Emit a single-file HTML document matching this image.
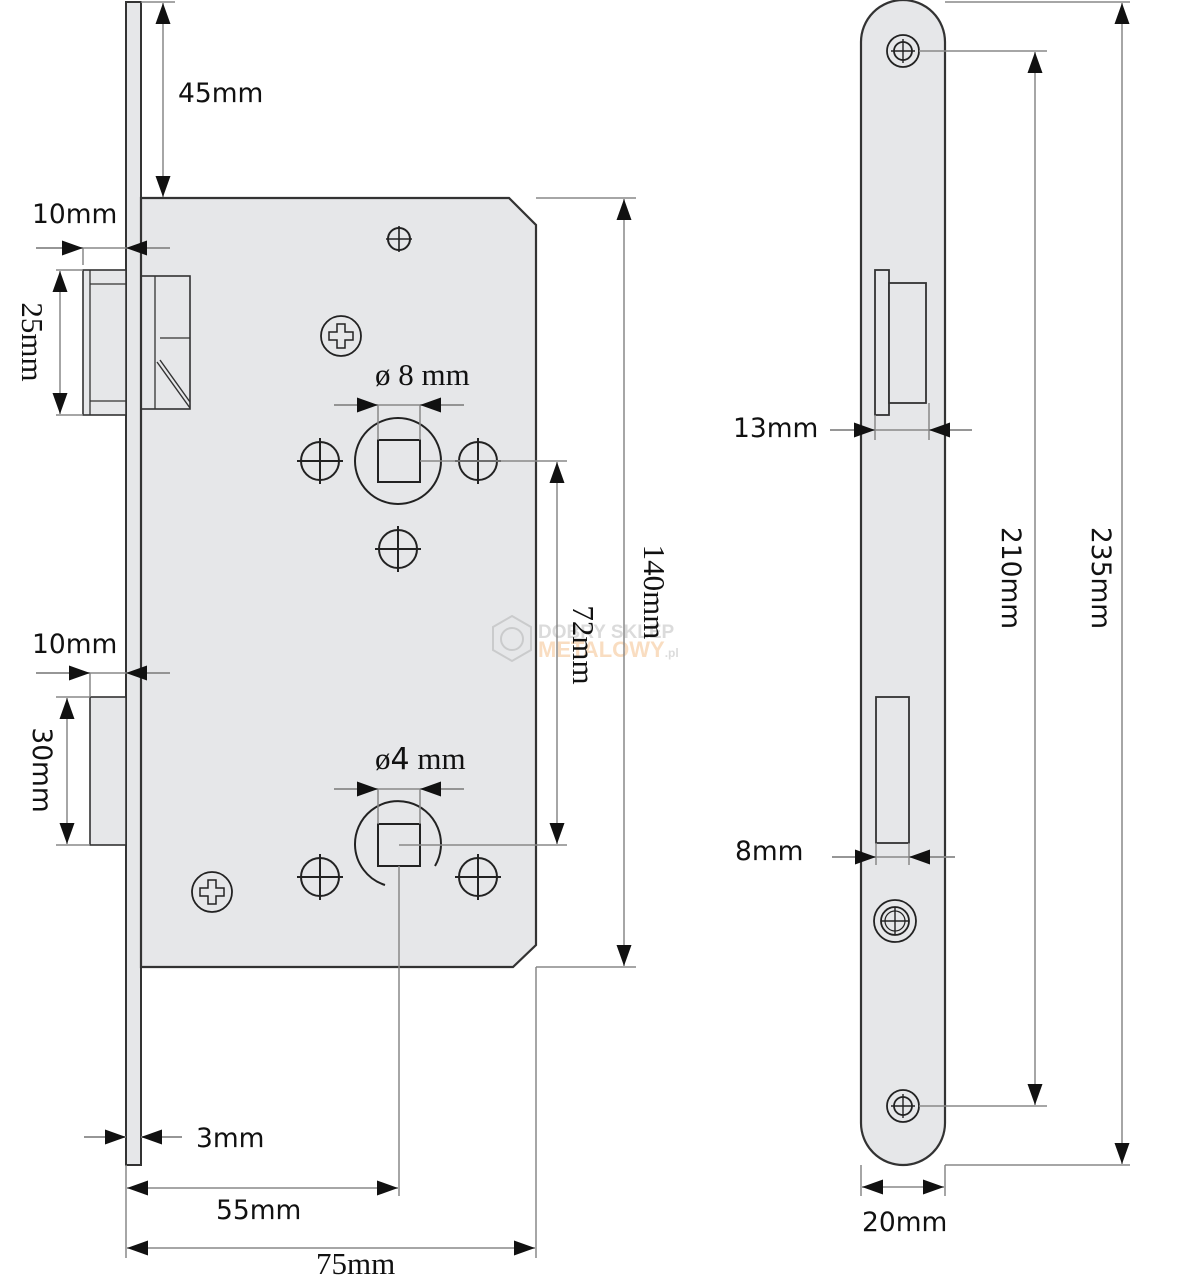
<!DOCTYPE html>
<html><head><meta charset="utf-8"><style>
html,body{margin:0;padding:0;background:#fff;}
svg{display:block;}
.s{font-family:"DejaVu Sans","Liberation Sans",sans-serif;font-size:26.5px;fill:#111;}
.r{font-family:"Liberation Serif",serif;font-size:31px;fill:#111;}
</style></head><body>
<svg width="1180" height="1280" viewBox="0 0 1180 1280" xmlns="http://www.w3.org/2000/svg">
<defs>
<marker id="a" markerUnits="userSpaceOnUse" markerWidth="22" markerHeight="16" refX="21" refY="7.5" orient="auto"><path d="M0,0 L21,7.5 L0,15 z" fill="#111"/></marker>
<g id="hole"><circle r="19" fill="none" stroke="#222" stroke-width="2"/><path d="M-23,0H23M0,-23V23" stroke="#222" stroke-width="2"/></g>
<g id="ph"><circle r="20" fill="none" stroke="#222" stroke-width="1.8"/><path d="M-4,-12h8v8h8v8h-8v8h-8v-8h-8v-8h8z" fill="none" stroke="#222" stroke-width="1.5"/></g>
</defs>
<g stroke="#333" stroke-width="1.6">
<rect x="126" y="2" width="15" height="1163" fill="#e6e7e9" stroke-width="2"/>
<path d="M141,198 H509 L536,225 V945 L513,967 H141 Z" fill="#e6e7e9" stroke-width="2.2"/>
<rect x="83" y="270" width="43" height="145" fill="#e6e7e9"/>
<path d="M90,270V415M90,284H126M90,401H126" fill="none" stroke-width="1.3"/>
<rect x="141" y="276" width="49" height="133" fill="none"/>
<path d="M155,276V409M160,338H190" fill="none" stroke-width="1.3"/>
<path d="M157,362L190,408M160,360L190,402" fill="none" stroke-width="1.4"/>
<rect x="90" y="697" width="36" height="148" fill="#e6e7e9"/>
</g>
<g stroke="#222" stroke-width="2" fill="none">
<circle cx="399" cy="239" r="11"/><path d="M386,239H412M399,226V252" stroke-width="1.6"/>
<circle cx="398" cy="461" r="43"/>
<rect x="378" y="440" width="42" height="42"/>
<path d="M355,845 A43,43 0 1 1 435,866" />
<path d="M355,845 A43,43 0 0 0 385,885" />
<rect x="378" y="824" width="42" height="42"/>
</g>
<use href="#hole" x="320" y="461"/><use href="#hole" x="478" y="461"/><use href="#hole" x="398" y="549"/>
<use href="#hole" x="320" y="877"/><use href="#hole" x="478" y="877"/>
<use href="#ph" x="341" y="336"/><use href="#ph" x="212" y="892"/>
<g opacity="0.35"><polygon points="512,616 531,627 531,650 512,661 493,650 493,627" fill="none" stroke="#999" stroke-width="2"/><circle cx="512" cy="639" r="11" fill="none" stroke="#999" stroke-width="2"/>
<text x="538" y="638" font-family="Liberation Sans,sans-serif" font-weight="bold" font-size="19" fill="#999">DOBRY SKLEP</text>
<text x="538" y="657" font-family="Liberation Sans,sans-serif" font-weight="bold" font-size="22" fill="#f0a050">METALOWY<tspan font-size="12" fill="#999">.pl</tspan></text></g>
<g stroke="#888" stroke-width="1.5" fill="none">
<path d="M141,2H175M126,1165V1258M399,866V1196M536,967V1258M536,198H636M536,967H636M420,461H567M399,845H567M141,248H170M83,248V265M126,248H36M56,270H83M56,415H83M141,673H170M90,673V697M126,673H36M56,697H90M56,845H90M378,405V440M420,405V440M334,405H464M378,789V824M420,789V824M334,789H464M141,1137H182M84,1137H126"/>
</g>
<g stroke="#888" stroke-width="1.5" marker-end="url(#a)">
<line x1="163" y1="100" x2="163" y2="3"/><line x1="163" y1="100" x2="163" y2="197"/>
<line x1="624" y1="580" x2="624" y2="199"/><line x1="624" y1="580" x2="624" y2="966"/>
<line x1="557" y1="650" x2="557" y2="462"/><line x1="557" y1="650" x2="557" y2="844"/>
<line x1="60" y1="340" x2="60" y2="271"/><line x1="60" y1="340" x2="60" y2="414"/>
<line x1="67" y1="770" x2="67" y2="698"/><line x1="67" y1="770" x2="67" y2="844"/>
<line x1="36" y1="248" x2="83" y2="248"/><line x1="170" y1="248" x2="126" y2="248"/>
<line x1="36" y1="673" x2="90" y2="673"/><line x1="170" y1="673" x2="126" y2="673"/>
<line x1="334" y1="405" x2="378" y2="405"/><line x1="464" y1="405" x2="420" y2="405"/>
<line x1="334" y1="789" x2="378" y2="789"/><line x1="464" y1="789" x2="420" y2="789"/>
<line x1="84" y1="1137" x2="126" y2="1137"/><line x1="182" y1="1137" x2="141" y2="1137"/>
<line x1="260" y1="1188" x2="127" y2="1188"/><line x1="260" y1="1188" x2="398" y2="1188"/>
<line x1="330" y1="1248" x2="127" y2="1248"/><line x1="330" y1="1248" x2="535" y2="1248"/>
</g>
<text class="s" x="178" y="102">45mm</text>
<text class="s" x="32" y="223">10mm</text>
<text class="s" x="32" y="653">10mm</text>
<text class="s" x="196" y="1147">3mm</text>
<text class="s" x="216" y="1219">55mm</text>
<text class="r" x="316" y="1274">75mm</text>
<text class="r" x="375" y="385">ø 8 mm</text>
<text class="r" x="375" y="769">ø<tspan font-family="DejaVu Sans,sans-serif" font-size="30">4</tspan> mm</text>
<text class="r" transform="translate(22,342) rotate(90)" text-anchor="middle">25mm</text>
<text class="s" transform="translate(33,770) rotate(90)" text-anchor="middle">30mm</text>
<text class="r" transform="translate(644,592) rotate(90)" text-anchor="middle">140mm</text>
<text class="r" transform="translate(573,645) rotate(90)" text-anchor="middle">72mm</text>
<path d="M861,42 A42,42 0 0 1 945,42 V1123 A42,42 0 0 1 861,1123 Z" fill="#e6e7e9" stroke="#333" stroke-width="2.2"/>
<g stroke="#333" stroke-width="1.8" fill="#e6e7e9">
<rect x="875" y="270" width="14" height="145"/>
<rect x="889" y="283" width="37" height="120"/>
<rect x="876" y="697" width="33" height="146"/>
</g>
<g stroke="#222" stroke-width="1.8" fill="none">
<circle cx="903" cy="51" r="16"/><circle cx="903" cy="51" r="9"/><path d="M891,51H915M903,39V63" stroke-width="1.4"/>
<circle cx="903" cy="1106" r="16"/><circle cx="903" cy="1106" r="9"/><path d="M891,1106H915M903,1094V1118" stroke-width="1.4"/>
<circle cx="895" cy="921" r="21"/><circle cx="895" cy="921" r="14"/><circle cx="895" cy="921" r="10" stroke-width="1.2"/><path d="M881,921H909M895,907V935" stroke-width="1.4"/>
</g>
<g stroke="#888" stroke-width="1.5" fill="none">
<path d="M945,2H1130M945,1165H1130M919,51H1047M919,1106H1047M875,415V440M929,403V440M830,430H972M876,843V865M909,843V865M832,857H955M861,1165V1196M945,1165V1196"/>
</g>
<g stroke="#888" stroke-width="1.5" marker-end="url(#a)">
<line x1="830" y1="430" x2="875" y2="430"/><line x1="972" y1="430" x2="929" y2="430"/>
<line x1="832" y1="857" x2="876" y2="857"/><line x1="955" y1="857" x2="909" y2="857"/>
<line x1="1035" y1="580" x2="1035" y2="52"/><line x1="1035" y1="580" x2="1035" y2="1105"/>
<line x1="1122" y1="580" x2="1122" y2="3"/><line x1="1122" y1="580" x2="1122" y2="1164"/>
<line x1="903" y1="1187" x2="862" y2="1187"/><line x1="903" y1="1187" x2="944" y2="1187"/>
</g>
<text class="s" x="733" y="437">13mm</text>
<text class="s" x="735" y="860">8mm</text>
<text class="s" x="862" y="1231">20mm</text>
<text class="s" transform="translate(1002,578) rotate(90)" text-anchor="middle">210mm</text>
<text class="s" transform="translate(1092,578) rotate(90)" text-anchor="middle">235mm</text>
</svg>
</body></html>
